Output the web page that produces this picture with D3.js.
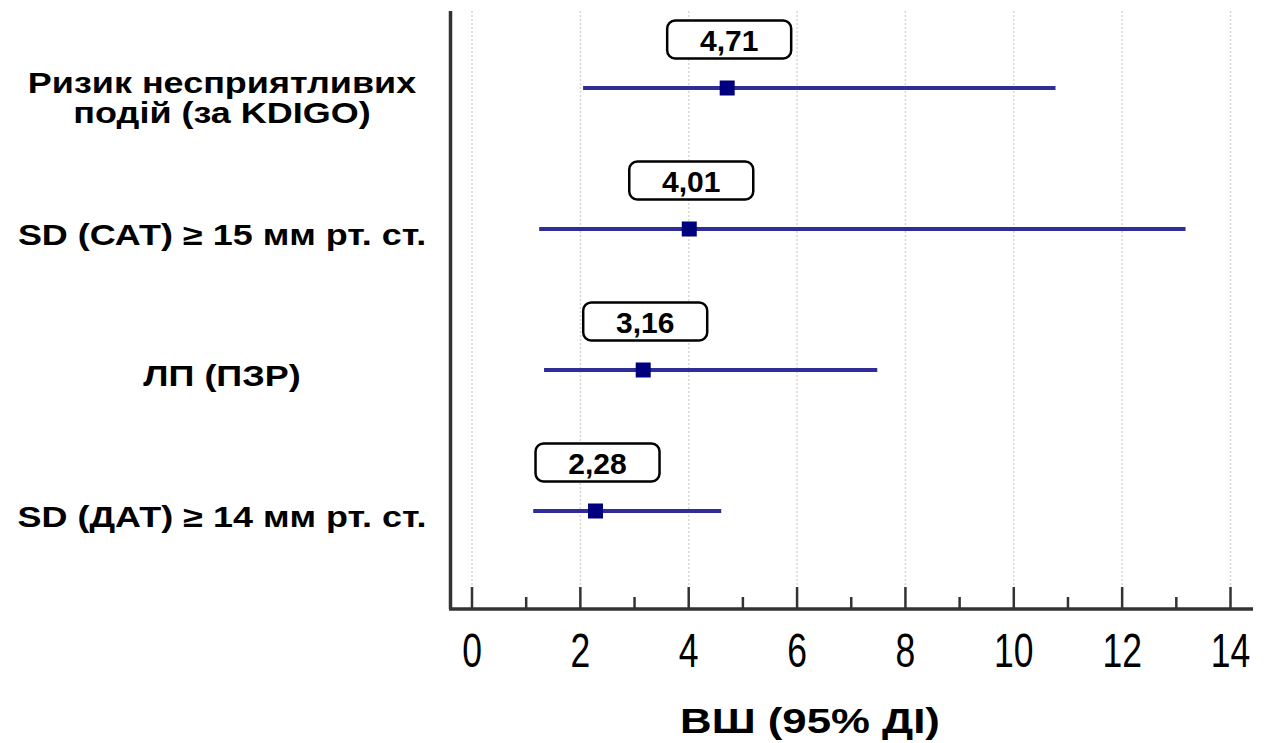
<!DOCTYPE html>
<html>
<head>
<meta charset="utf-8">
<script src="https://cdn.jsdelivr.net/npm/d3@7"></script>
<style>
  html, body { margin: 0; padding: 0; background: #fff; }
  svg { display: block; }
  text { font-family: "Liberation Sans", Arial, sans-serif; }
</style>
</head>
<body>
<svg id="chart" width="1264" height="743"></svg>
<script>
// Odds ratios with 95% confidence intervals
const categories = [
  ["Ризик несприятливих", "подій (за KDIGO)"],
  ["SD (САТ) ≥ 15 мм рт. ст."],
  ["ЛП (ПЗР)"],
  ["SD (ДАТ) ≥ 14 мм рт. ст."]
];
const oddsRatio = [4.71, 4.01, 3.16, 2.28];
const ciLow  = [2.05, 1.24, 1.33, 1.13];
const ciHigh = [10.77, 13.17, 7.48, 4.60];
const valueLabels = ["4,71", "4,01", "3,16", "2,28"];
const xTicks = [0, 2, 4, 6, 8, 10, 12, 14];
const xMinorTicks = [1, 3, 5, 7, 9, 11, 13];
const axisTitle = "ВШ (95% ДІ)";

const svg = d3.select("#chart");

const axisLeftX = 450.5, axisTop = 11, axisBottomY = 609, axisRight = 1253;

const x = d3.scaleLinear().domain([0, 14]).range([472, 1230.5]);
const y = d3.scalePoint().domain(d3.range(categories.length)).range([88, 511]);

// light dotted gridlines at major ticks
svg.append("g").selectAll("line").data(xTicks).join("line")
  .attr("x1", d => x(d)).attr("x2", d => x(d))
  .attr("y1", axisTop).attr("y2", axisBottomY - 20)
  .attr("stroke", "#d6d6d6").attr("stroke-width", 1.5)
  .attr("stroke-dasharray", "2,2");

// x axis with major and minor ticks
const axisColor = "#333";
svg.append("g").selectAll("line").data(xTicks).join("line")
  .attr("x1", d => x(d)).attr("x2", d => x(d))
  .attr("y1", axisBottomY - 22).attr("y2", axisBottomY)
  .attr("stroke", axisColor).attr("stroke-width", 2.5);
svg.append("g").selectAll("line").data(xMinorTicks).join("line")
  .attr("x1", d => x(d)).attr("x2", d => x(d))
  .attr("y1", axisBottomY - 12).attr("y2", axisBottomY)
  .attr("stroke", axisColor).attr("stroke-width", 2.5);

svg.append("line")
  .attr("x1", axisLeftX - 1.5).attr("x2", axisRight)
  .attr("y1", axisBottomY).attr("y2", axisBottomY)
  .attr("stroke", axisColor).attr("stroke-width", 3.5);
svg.append("line")
  .attr("x1", axisLeftX).attr("x2", axisLeftX)
  .attr("y1", axisTop).attr("y2", axisBottomY)
  .attr("stroke", axisColor).attr("stroke-width", 3.5);

// tick labels in a condensed style
svg.append("g").selectAll("text").data(xTicks).join("text")
  .attr("transform", d => `translate(${x(d)},667) scale(0.74,1)`)
  .attr("text-anchor", "middle")
  .attr("font-size", 48)
  .attr("fill", "#000")
  .text(d => d);

// axis title (wide bold)
svg.append("text")
  .attr("transform", "translate(810,733) scale(1.25,1)")
  .attr("text-anchor", "middle")
  .attr("font-size", 35).attr("font-weight", "bold")
  .text(axisTitle);

// category labels (wide bold)
const labels = svg.append("g");
categories.forEach((lines, i) => {
  const cy = y(i);
  const lh = 30;
  const y0 = cy + 16 - (lines.length - 1) * 11;
  lines.forEach((ln, j) => {
    labels.append("text")
      .attr("transform", `translate(222,${y0 + j * lh}) scale(1.24,1)`)
      .attr("text-anchor", "middle")
      .attr("font-size", 29).attr("font-weight", "bold")
      .text(ln);
  });
});

// confidence interval lines
const markColor = "#2e2e96";
svg.append("g").selectAll("line").data(oddsRatio).join("line")
  .attr("x1", (d, i) => x(ciLow[i])).attr("x2", (d, i) => x(ciHigh[i]))
  .attr("y1", (d, i) => y(i)).attr("y2", (d, i) => y(i))
  .attr("stroke", markColor).attr("stroke-width", 4);

// point estimates
const sq = 15;
svg.append("g").selectAll("rect").data(oddsRatio).join("rect")
  .attr("x", d => x(d) - sq / 2).attr("y", (d, i) => y(i) - sq / 2)
  .attr("width", sq).attr("height", sq)
  .attr("fill", "#00007f");

// value callouts
const boxW = 124, boxH = 38;
const callouts = svg.append("g").selectAll("g").data(oddsRatio).join("g")
  .attr("transform", (d, i) => `translate(${x(d) + 2},${y(i) - 48.5})`);
callouts.append("rect")
  .attr("x", -boxW / 2).attr("y", -boxH / 2)
  .attr("width", boxW).attr("height", boxH)
  .attr("rx", 8).attr("ry", 8)
  .attr("fill", "#fff").attr("stroke", "#000").attr("stroke-width", 2.5);
callouts.append("text")
  .attr("text-anchor", "middle").attr("y", 11)
  .attr("font-size", 30).attr("font-weight", "bold")
  .text((d, i) => valueLabels[i]);
</script>
</body>
</html>
